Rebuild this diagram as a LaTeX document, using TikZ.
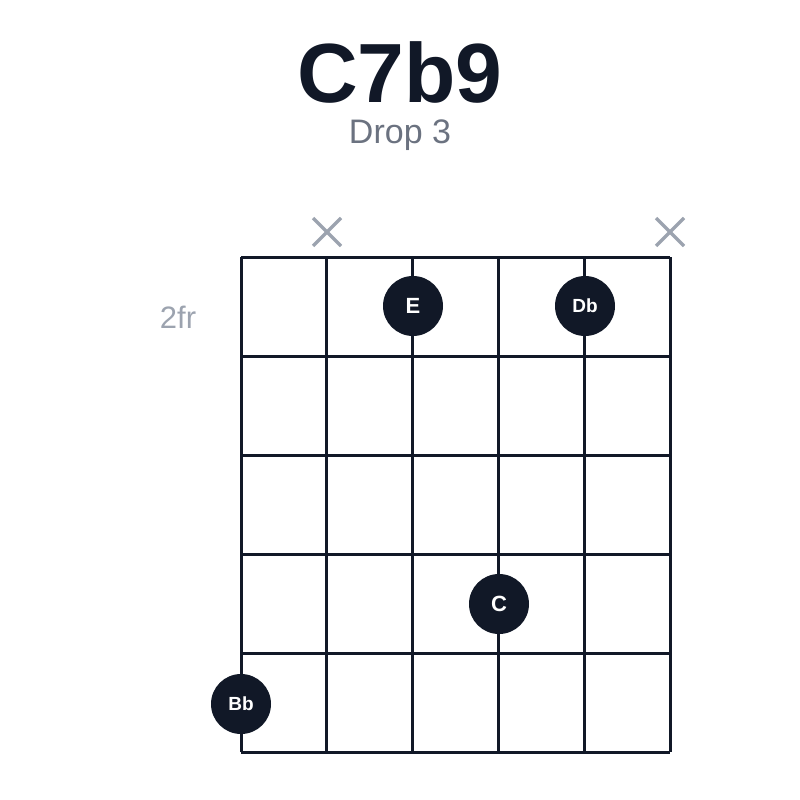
\documentclass[tikz,border=0pt]{standalone}
\usepackage{fontspec}
\setmainfont{Liberation Sans}
\usepackage{tikz}
\usetikzlibrary{calc}

\definecolor{ink}{HTML}{111827}
\definecolor{subgray}{HTML}{6B7280}
\definecolor{mutegray}{HTML}{9CA3AF}

\tikzset{
	fingerdot/.style={circle,fill=ink,text=white,minimum size=60pt,inner sep=0pt,font=\fontsize{22}{22}\selectfont\bfseries},
	smalldot/.style={fingerdot,font=\fontsize{19}{19}\selectfont\bfseries},
	mutemark/.style={draw=mutegray,line width=3.5pt},
}

\begin{document}
\begin{tikzpicture}[x=1pt,y=-1pt]
			\useasboundingbox (0,0) rectangle (800,800);
			% title
			\node[text=ink,font=\fontsize{84}{84}\selectfont\bfseries] (title) at (400,72) {C7b9};
			\node[text=subgray,font=\fontsize{34}{34}\selectfont] (voicing) at (400,135) {Drop 3};
			\node[text=mutegray,font=\fontsize{31}{31}\selectfont] (fret) at (178,317) {2fr};
			% frets
			\foreach \f in {0,...,5}
			{
				\draw[ink,line width=3pt] (241,257+99*\f) -- (670,257+99*\f);
			}
			% strings
			\foreach \s in {0,...,5}
			{
				\draw[ink,line width=3pt] (241+85.8*\s,257) -- (241+85.8*\s,752);
			}
			% muted strings
			\foreach \x/\n in {327/mutea,670/muteb}
			{
				\coordinate (\n) at (\x,232);
				\draw[mutemark] ($(\n)+(-14,-14)$) -- ($(\n)+(14,14)$);
				\draw[mutemark] ($(\n)+(-14,14)$) -- ($(\n)+(14,-14)$);
			}
			% notes
			\node[fingerdot] (e) at (413,306) {E};
			\node[smalldot] (db) at (585,306) {Db};
			\node[fingerdot] (c) at (499,604) {C};
			\node[smalldot] (bb) at (241,704) {Bb};
		\end{tikzpicture}
\end{document}
